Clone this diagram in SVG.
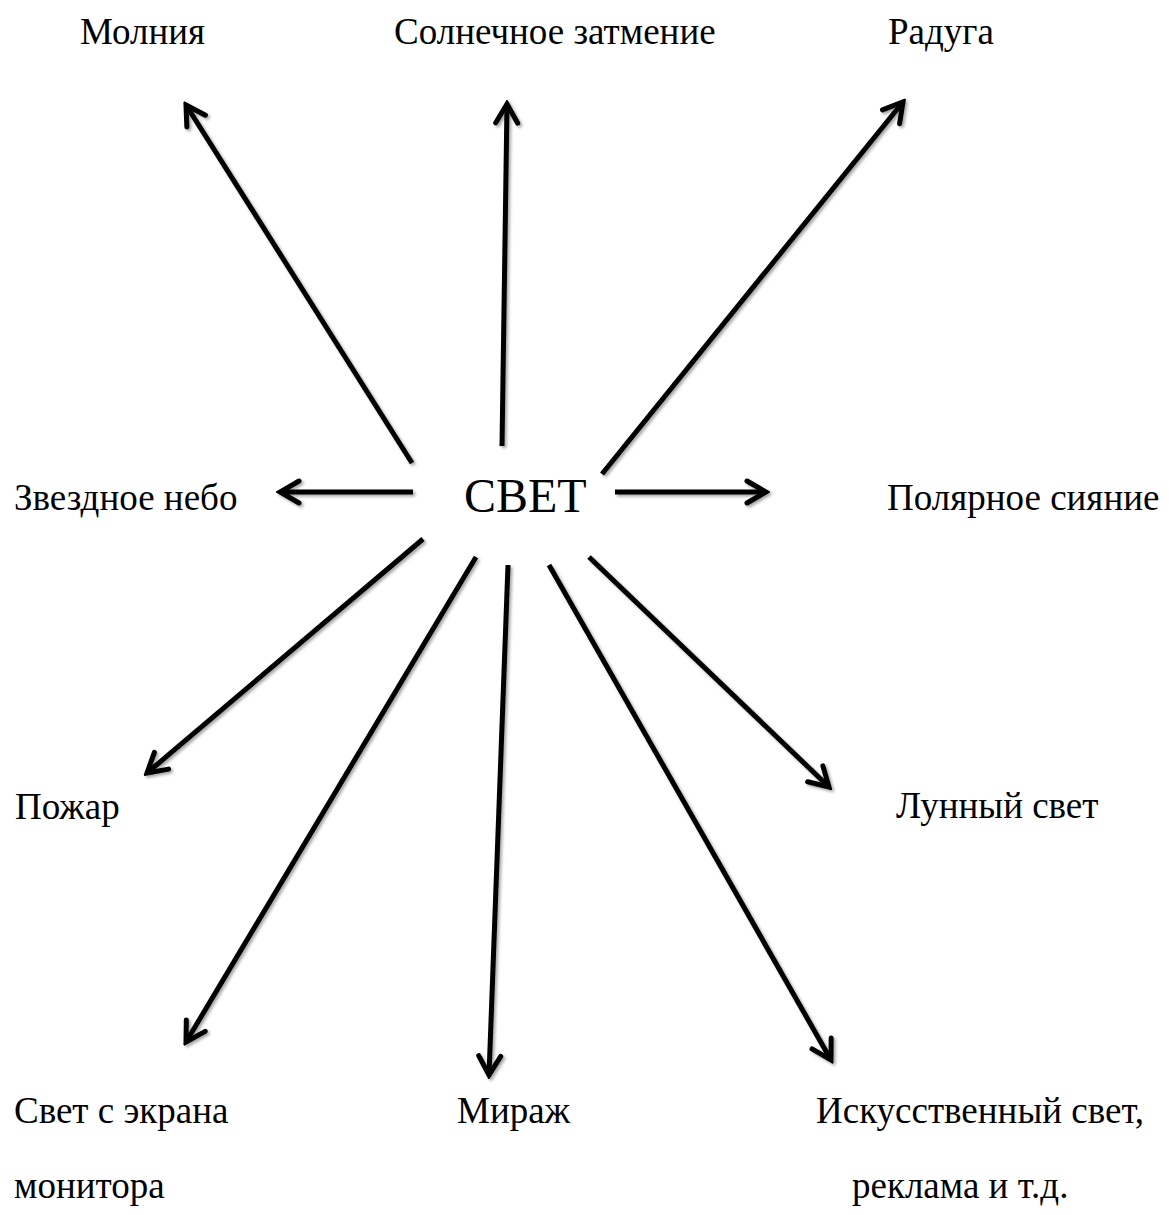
<svg xmlns="http://www.w3.org/2000/svg" width="1169" height="1215" viewBox="0 0 1169 1215">
<style>
.lbl{font-family:"Liberation Serif","Times New Roman",serif;font-size:37px;fill:#000}
.big{font-family:"Liberation Serif","Times New Roman",serif;font-size:48px;fill:#000}
.ln{stroke:#000;stroke-width:5;fill:none;marker-end:url(#ah)}
</style>
<defs>
<marker id="ah" markerUnits="userSpaceOnUse" viewBox="-24 -14 28 28" refX="0" refY="0" markerWidth="28" markerHeight="28" orient="auto">
<path d="M-19,-11 L0,0 L-19,11" fill="none" stroke="#000" stroke-width="5" stroke-linecap="round" stroke-linejoin="miter"/>
</marker>
<filter id="sh" x="-10%" y="-10%" width="120%" height="120%">
<feDropShadow dx="2" dy="2" stdDeviation="1.5" flood-color="#000" flood-opacity="0.35"/>
</filter>
</defs>
<rect width="1169" height="1215" fill="#fff"/>
<g id="connectors" filter="url(#sh)">
<line class="ln" x1="412" y1="463" x2="186" y2="105"/>
<line class="ln" x1="502" y1="446" x2="507" y2="104"/>
<line class="ln" x1="602" y1="474" x2="903" y2="102"/>
<line class="ln" x1="413" y1="492" x2="280" y2="492"/>
<line class="ln" x1="615" y1="492" x2="766" y2="492"/>
<line class="ln" x1="423" y1="539" x2="147" y2="773"/>
<line class="ln" x1="476" y1="557" x2="186" y2="1042"/>
<line class="ln" x1="508" y1="565" x2="489" y2="1075"/>
<line class="ln" x1="549" y1="565" x2="831" y2="1060"/>
<line class="ln" x1="589" y1="557" x2="829" y2="787"/>
</g>
<g id="center"><text class="big" x="464" y="512">СВЕТ</text></g>
<g id="n-molniya"><text class="lbl" x="80" y="44">Молния</text></g>
<g id="n-zatmenie"><text class="lbl" x="394" y="44">Солнечное затмение</text></g>
<g id="n-raduga"><text class="lbl" x="888" y="44">Радуга</text></g>
<g id="n-zvezdnoe"><text class="lbl" x="14" y="510">Звездное небо</text></g>
<g id="n-polyarnoe"><text class="lbl" x="887" y="510">Полярное сияние</text></g>
<g id="n-pozhar"><text class="lbl" x="15" y="819">Пожар</text></g>
<g id="n-lunny"><text class="lbl" x="896" y="818">Лунный свет</text></g>
<g id="n-ekran"><text class="lbl" x="14" y="1123">Свет с экрана</text><text class="lbl" x="14" y="1198">монитора</text></g>
<g id="n-mirazh"><text class="lbl" x="457" y="1123">Мираж</text></g>
<g id="n-iskusstv"><text class="lbl" x="816" y="1123">Искусственный свет,</text><text class="lbl" x="852" y="1198">реклама и т.д.</text></g>
</svg>
